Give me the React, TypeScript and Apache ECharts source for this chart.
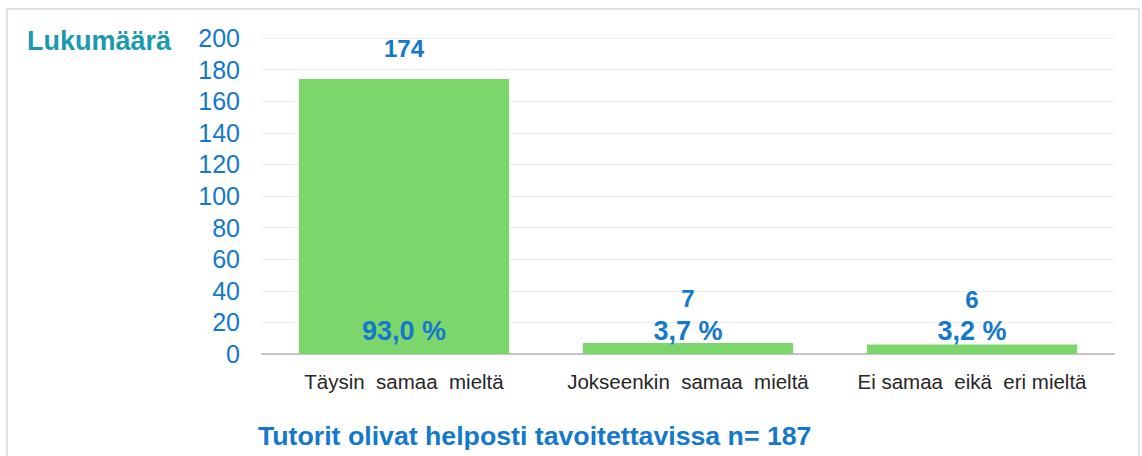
import React, { useEffect, useRef } from "react";
import * as echarts from "echarts";

const categories = ["Täysin  samaa  mieltä", "Jokseenkin  samaa  mieltä", "Ei samaa  eikä  eri mieltä"];
const counts = [174, 7, 6];
const percents = [93.0, 3.7, 3.2];
const countLabelDistance = [19, 32, 33];
const yTicks = { min: 0, max: 200, interval: 20 };
const yAxisTitle = "Lukumäärä";
const chartTitle = "Tutorit olivat helposti tavoitettavissa n= 187";

const BLUE = "#1479cc";
const FONT = "'Liberation Sans', Arial, sans-serif";

export default function App() {
  const ref = useRef<HTMLDivElement>(null);
  useEffect(() => {
    if (!ref.current) return;
    const chart = echarts.init(ref.current, undefined, { renderer: "svg" });
    chart.setOption({
      animation: false,
      backgroundColor: "#ffffff",
      textStyle: { fontFamily: FONT },
      grid: { left: 262, right: 28, top: 38, bottom: 102, containLabel: false },
      xAxis: {
        type: "category",
        data: categories,
        axisLine: { show: true, lineStyle: { color: "#c4c4c4", width: 2 } },
        axisTick: { show: false },
        axisLabel: { color: "#262626", fontSize: 20.5, margin: 17, interval: 0, fontFamily: FONT },
      },
      yAxis: {
        type: "value",
        min: yTicks.min,
        max: yTicks.max,
        interval: yTicks.interval,
        axisLine: { show: false },
        axisTick: { show: false },
        axisLabel: { color: BLUE, fontSize: 25, margin: 22, fontFamily: FONT },
        splitLine: { lineStyle: { color: "#ececec", width: 1 } },
      },
      series: [
        {
          type: "bar",
          data: counts,
          barWidth: "74%",
          itemStyle: { color: "#7dd66b" },
          label: {
            show: true,
            position: "insideBottom",
            distance: 10,
            color: BLUE,
            fontSize: 27,
            fontWeight: "bold",
            fontFamily: FONT,
            formatter: (p: any) => percents[p.dataIndex].toFixed(1).replace(".", ",") + " %",
          },
          z: 2,
        },
        {
          type: "bar",
          data: counts.map((v, i) => ({ value: v, label: { distance: countLabelDistance[i] } })),
          barWidth: "74%",
          barGap: "-100%",
          itemStyle: { color: "rgba(0,0,0,0)" },
          label: {
            show: true,
            position: "top",
            color: BLUE,
            fontSize: 24,
            fontWeight: "bold",
            fontFamily: FONT,
          },
          z: 3,
        },
      ],
      graphic: [
        {
          type: "rect",
          shape: { x: 7, y: 9, width: 1132, height: 460 },
          style: { fill: "none", stroke: "#e2e2e2", lineWidth: 2 },
          silent: true,
        },
        {
          type: "text",
          left: 27,
          top: 27,
          style: { text: yAxisTitle, fill: "#1a9aae", font: `bold 27px ${FONT}` },
        },
        {
          type: "text",
          left: 258,
          top: 422,
          style: { text: chartTitle, fill: BLUE, font: `bold 26.7px ${FONT}` },
        },
      ],
    });
    return () => chart.dispose();
  }, []);
  return <div ref={ref} style={{ position: "fixed", left: 0, top: 0, width: 1142, height: 456 }} />;
}
